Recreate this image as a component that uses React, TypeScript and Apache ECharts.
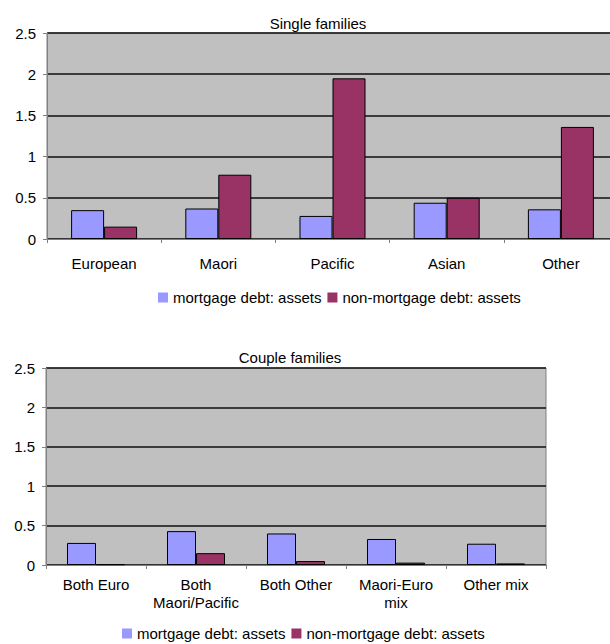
import React, { useEffect, useRef } from "react";
import * as echarts from "echarts";

// Debt-to-asset ratios by family type and ethnic group
const singleCategories = ["European", "Maori", "Pacific", "Asian", "Other"];
const singleMortgage = [0.35, 0.37, 0.28, 0.44, 0.36];
const singleNonMortgage = [0.15, 0.78, 1.95, 0.5, 1.36];

const coupleCategories = ["Both Euro", "Both\nMaori/Pacific", "Both Other", "Maori-Euro\nmix", "Other mix"];
const coupleMortgage = [0.28, 0.43, 0.4, 0.33, 0.27];
const coupleNonMortgage = [0.01, 0.15, 0.05, 0.03, 0.02];

const seriesNames = ["mortgage debt: assets", "non-mortgage debt: assets"];
const seriesColors = ["#9999FF", "#993366"];

const FONT = "'Liberation Sans', Arial, sans-serif";

export default function App() {
  const ref = useRef<HTMLDivElement>(null);

  useEffect(() => {
    if (!ref.current) return;
    const chart = echarts.init(ref.current, undefined, { renderer: "svg" });

    const yAxisBase = (gridIndex: number) => ({
      type: "value" as const,
      gridIndex,
      min: 0,
      max: 2.5,
      interval: 0.5,
      axisLine: { show: true, lineStyle: { color: "#808080", width: 1 } },
      axisTick: { show: true, length: 4, lineStyle: { color: "#808080" } },
      axisLabel: { color: "#000", fontSize: 15, fontFamily: FONT, margin: 11 },
      splitLine: { show: true, lineStyle: { color: "#111", width: 1.5 } },
    });

    const xAxisBase = (gridIndex: number, data: string[], margin: number) => ({
      type: "category" as const,
      gridIndex,
      data,
      axisLine: { show: true, lineStyle: { color: "#808080", width: 1 } },
      axisTick: { show: true, length: 4, alignWithLabel: false, lineStyle: { color: "#808080" } },
      axisLabel: {
        color: "#000",
        fontSize: 15,
        fontFamily: FONT,
        margin,
        lineHeight: 18,
        interval: 0,
      },
      splitLine: { show: false },
    });

    const bar = (name: string, idx: number, data: number[], width: number) => ({
      name,
      type: "bar" as const,
      xAxisIndex: idx,
      yAxisIndex: idx,
      data,
      barWidth: width,
      barGap: "0%",
      itemStyle: {
        color: seriesColors[seriesNames.indexOf(name)],
        borderColor: "#000",
        borderWidth: 1,
      },
    });

    const legendBase = (left: number, top: number) => ({
      left,
      top,
      orient: "horizontal" as const,
      itemWidth: 10,
      itemHeight: 10,
      itemGap: 6,
      icon: "rect",
      padding: 0,
      itemStyle: { borderWidth: 0 },
      textStyle: { color: "#000", fontSize: 15, fontFamily: FONT },
      data: seriesNames,
    });

    chart.setOption({
      animation: false,
      backgroundColor: "#fff",
      title: [
        {
          text: "Single families",
          left: 313,
          top: 11,
          textAlign: "center",
          textStyle: { color: "#000", fontSize: 15, fontWeight: "normal", fontFamily: FONT },
        },
        {
          text: "Couple families",
          left: 285,
          top: 345,
          textAlign: "center",
          textStyle: { color: "#000", fontSize: 15, fontWeight: "normal", fontFamily: FONT },
        },
      ],
      legend: [legendBase(158, 290), legendBase(122, 626)],
      grid: [
        {
          left: 47,
          top: 33,
          width: 571,
          height: 206,
          show: true,
          backgroundColor: "#C0C0C0",
          borderColor: "#808080",
          borderWidth: 1,
        },
        {
          left: 46,
          top: 368,
          width: 500,
          height: 197,
          show: true,
          backgroundColor: "#C0C0C0",
          borderColor: "#808080",
          borderWidth: 1,
        },
      ],
      xAxis: [xAxisBase(0, singleCategories, 15), xAxisBase(1, coupleCategories, 10)],
      yAxis: [yAxisBase(0), yAxisBase(1)],
      series: [
        bar(seriesNames[0], 0, singleMortgage, 33),
        bar(seriesNames[1], 0, singleNonMortgage, 33),
        bar(seriesNames[0], 1, coupleMortgage, 29),
        bar(seriesNames[1], 1, coupleNonMortgage, 29),
      ],
    });

    return () => chart.dispose();
  }, []);

  return (
    <div
      style={{
        position: "fixed",
        left: 0,
        top: 0,
        width: 610,
        height: 644,
        overflow: "hidden",
        background: "#fff",
      }}
    >
      <div ref={ref} style={{ width: 630, height: 644 }} />
    </div>
  );
}
